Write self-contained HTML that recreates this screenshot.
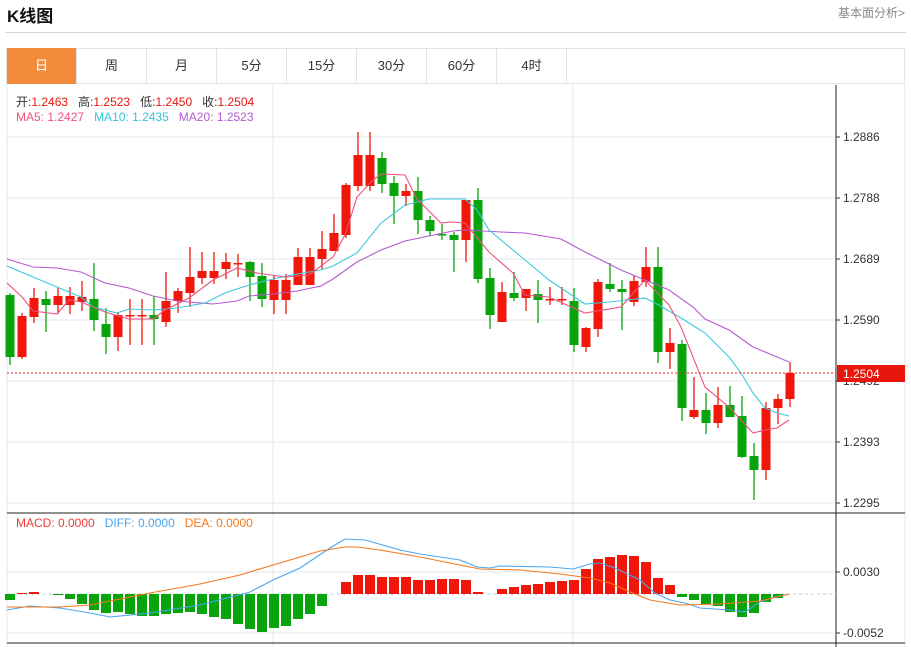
<!DOCTYPE html>
<html><head><meta charset="utf-8">
<style>
body{margin:0;width:911px;height:647px;background:#fff;overflow:hidden;font-family:"Liberation Sans","Noto Sans CJK SC",sans-serif;position:relative}
.t{position:absolute;white-space:nowrap}
.tab{position:absolute;top:48px;height:36px;width:70px;text-align:center;line-height:36px;font-size:13px;color:#333;border-right:1px solid #e2e2e2;box-sizing:border-box}
</style></head><body>
<div class="t" style="left:7px;top:2px;font-size:17px;font-weight:bold;color:#111">K线图</div>
<div class="t" style="right:6px;top:4px;font-size:12px;color:#888">基本面分析&gt;</div>
<div style="position:absolute;left:5px;top:32px;width:901px;height:1px;background:#d4d4d4"></div>
<div style="position:absolute;left:6px;top:48px;width:899px;height:36px;border:1px solid #e2e2e2;box-sizing:border-box"></div>
<div class="tab" style="left:7px;background:#f28c3c;color:#fff">日</div>
<div class="tab" style="left:77px">周</div>
<div class="tab" style="left:147px">月</div>
<div class="tab" style="left:217px">5分</div>
<div class="tab" style="left:287px">15分</div>
<div class="tab" style="left:357px">30分</div>
<div class="tab" style="left:427px">60分</div>
<div class="tab" style="left:497px">4时</div>
<svg id="s" width="911" height="647" style="position:absolute;left:0;top:0" xmlns="http://www.w3.org/2000/svg">
<g stroke="#e3e9ef" stroke-width="1">
<line x1="7" y1="137" x2="836" y2="137"/><line x1="7" y1="198" x2="836" y2="198"/><line x1="7" y1="259" x2="836" y2="259"/><line x1="7" y1="320" x2="836" y2="320"/><line x1="7" y1="381" x2="836" y2="381"/><line x1="7" y1="442" x2="836" y2="442"/><line x1="7" y1="503" x2="836" y2="503"/>
<line x1="7" y1="572" x2="836" y2="572"/><line x1="7" y1="633" x2="836" y2="633"/>
<line x1="273" y1="85" x2="273" y2="647"/><line x1="573" y1="85" x2="573" y2="647"/>
<line x1="7" y1="85" x2="7" y2="647"/><line x1="905" y1="85" x2="905" y2="647"/>
</g>
<line x1="836" y1="85" x2="836" y2="647" stroke="#222"/>
<line x1="7" y1="513" x2="905" y2="513" stroke="#222"/>
<line x1="7" y1="643" x2="905" y2="643" stroke="#222"/>
<line x1="7" y1="594" x2="836" y2="594" stroke="#a8d4e6" stroke-dasharray="3,3"/>
<g id="c"></g>
<line x1="7" y1="373" x2="836" y2="373" stroke="#e8281e" stroke-dasharray="2,2"/>
<g font-size="12" fill="#333" font-family="Liberation Sans,sans-serif">
<g stroke="#333"><line x1="836" x2="840" y1="137" y2="137"/><line x1="836" x2="840" y1="198" y2="198"/><line x1="836" x2="840" y1="259" y2="259"/><line x1="836" x2="840" y1="320" y2="320"/><line x1="836" x2="840" y1="381" y2="381"/><line x1="836" x2="840" y1="442" y2="442"/><line x1="836" x2="840" y1="503" y2="503"/><line x1="836" x2="840" y1="572" y2="572"/><line x1="836" x2="840" y1="633" y2="633"/></g>
<text x="843" y="141">1.2886</text><text x="843" y="202">1.2788</text><text x="843" y="263">1.2689</text><text x="843" y="324">1.2590</text><text x="843" y="385">1.2492</text><text x="843" y="446">1.2393</text><text x="843" y="507">1.2295</text>
<text x="843" y="576">0.0030</text><text x="843" y="637">-0.0052</text>
</g>
<rect x="837" y="365" width="68" height="17" fill="#e8160c"/>
<text x="843" y="378" font-size="12" fill="#fff" font-family="Liberation Sans,sans-serif">1.2504</text>
</svg>
<div class="t" style="left:16px;top:93px;font-size:12px;color:#333">开:<span style="color:#e8160c">1.2463</span>&nbsp;&nbsp; 高:<span style="color:#e8160c">1.2523</span>&nbsp;&nbsp; 低:<span style="color:#e8160c">1.2450</span>&nbsp;&nbsp; 收:<span style="color:#e8160c">1.2504</span></div>
<div class="t" style="left:16px;top:110px;font-size:12px"><span style="color:#f0507e">MA5: 1.2427</span>&nbsp;&nbsp; <span style="color:#2fc4da">MA10: 1.2435</span>&nbsp;&nbsp; <span style="color:#b45ad0">MA20: 1.2523</span></div>
<div class="t" style="left:16px;top:516px;font-size:12px"><span style="color:#f03a3a">MACD: 0.0000</span>&nbsp;&nbsp; <span style="color:#4aa6f0">DIFF: 0.0000</span>&nbsp;&nbsp; <span style="color:#f57a1e">DEA: 0.0000</span></div>
<script>
var K=[[295,357,293,365,0],[316,357,313,359,1],[298,317,288,323,1],[299,305,291,332,0],[296,305,288,314,1],[296,305,287,314,1],[297,302,281,311,1],[299,320,263,331,0],[324,337,308,354,0],[315,337,312,351,1],[315,316,299,345,1],[315,316,299,345,1],[315,319,296,345,0],[301,322,272,327,1],[291,301,288,313,1],[277,293,247,307,1],[271,278,252,284,1],[271,278,252,284,1],[262,269,253,279,1],[263,264,254,277,1],[262,277,261,301,0],[276,299,263,307,0],[280,300,276,314,1],[280,300,274,314,1],[257,285,248,285,1],[257,285,248,285,1],[249,259,231,269,1],[233,251,214,251,1],[185,235,183,238,1],[155,186,132,191,1],[155,186,132,191,1],[158,184,152,193,0],[183,196,176,224,0],[191,196,184,206,1],[191,220,177,234,0],[220,231,216,236,0],[234,235,224,240,0],[235,240,232,272,0],[200,240,200,262,1],[200,279,188,283,0],[278,315,268,329,0],[292,322,282,322,1],[293,298,272,301,0],[289,298,289,311,1],[294,300,280,323,0],[299,300,287,305,1],[299,300,287,305,1],[301,345,288,352,0],[328,347,327,352,1],[282,329,279,337,1],[284,289,263,292,0],[289,292,280,330,0],[281,302,276,306,1],[267,282,247,287,1],[267,352,247,363,0],[343,352,328,369,1],[344,408,340,421,0],[410,417,377,419,1],[410,423,393,434,0],[405,423,387,428,1],[405,417,386,417,0],[416,457,396,458,0],[456,470,443,500,0],[408,470,402,480,1],[399,408,394,424,1],[373,399,362,407,1]];
var M=[600,593,592,594,595,599,604,610,613,612,614,616,616,614,613,612,614,617,619,624,629,632,628,626,619,614,606,594,582,575,575,577,577,577,580,580,579,579,580,592,594,589,587,585,584,582,581,580,569,559,557,555,556,562,578,585,597,600,604,606,612,617,613,602,598,594];
var h='';
for(var i=0;i<K.length;i++){var k=K[i],x=10+12*i,c=k[4]?'#f0160a':'#07a40b';
h+='<line x1="'+x+'" x2="'+x+'" y1="'+k[2]+'" y2="'+k[3]+'" stroke="'+c+'" stroke-width="1.3"/>';
h+='<rect x="'+(x-4.5)+'" y="'+k[0]+'" width="9" height="'+Math.max(1.5,k[1]-k[0])+'" fill="'+c+'"/>';
var m=M[i];if(Math.abs(m-594)>0.5){var cc=m<594?'#f0160a':'#07a40b';h+='<rect x="'+(x-5)+'" y="'+Math.min(m,594)+'" width="10" height="'+Math.abs(m-594)+'" fill="'+cc+'"/>';}}
function pl(p,c){return '<polyline fill="none" stroke="'+c+'" stroke-width="1.1" points="'+p+'"/>';}
h+=pl('7,259 33,267 57,268 81,272 105,283 129,288 153,296 177,301 201,303 213,304 237,301 249,296 273,294 297,291 321,286 333,279 357,262 381,250 405,241 429,236 453,231 465,230 501,232 525,233 561,239 585,252 621,270 645,280 669,290 693,307 705,319 729,330 753,347 777,357 789,362','#b45ad0');
h+=pl('7,266 33,277 57,287 81,297 93,307 117,313 129,309 153,310 177,308 205,303 225,293 249,285 273,279 297,274 321,270 333,266 357,253 381,223 405,205 429,199 450,199 465,199 477,210 489,230 525,260 549,280 585,304 609,302 645,298 657,304 681,318 705,333 729,357 741,373 753,393 765,408 777,413 789,416','#3dc8dc');
h+=pl('7,283 22,297 33,311 57,314 69,300 81,302 105,312 129,319 153,319 165,310 189,298 213,280 237,268 257,273 285,277 309,275 333,257 345,235 357,197 373,180 381,174 405,175 417,199 441,223 450,222 465,223 489,252 513,273 525,295 549,297 585,313 621,307 645,280 669,305 681,327 705,387 729,407 753,433 765,430 777,428 789,420','#f0507e');
h+=pl('7,610 30,606 60,608 90,613 110,617 150,613 200,605 250,592 273,580 300,568 330,548 345,539 365,540 400,550 420,554 460,560 477,567 490,568 500,566 550,567 573,569 590,564 600,563 615,568 640,580 655,593 670,600 685,603 700,608 730,610 745,612 760,602 775,597 789,594','#4aa6f0');
h+=pl('7,607 60,607 90,605 150,593 200,584 240,575 273,565 300,557 320,551 345,547 357,547 380,550 420,557 460,565 480,569 520,570 560,574 590,578 610,583 630,592 650,600 680,605 720,604 760,601 789,594','#f57a1e');
document.getElementById('c').innerHTML=h;
</script>
</body></html>
